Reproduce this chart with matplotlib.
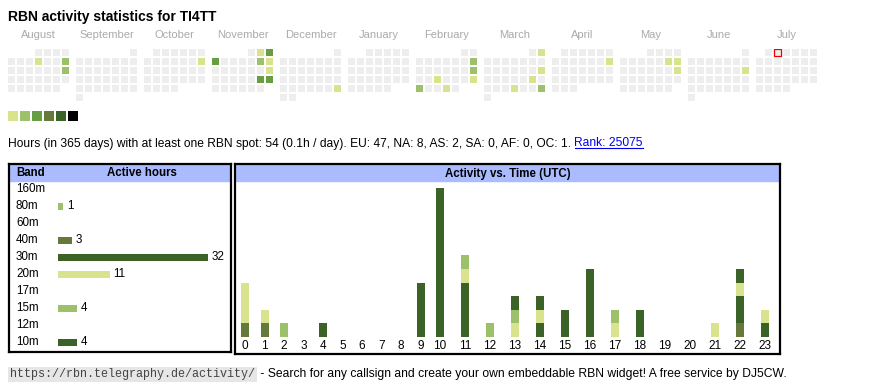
import calendar
import datetime as dt
import numpy as np
import matplotlib
matplotlib.use('Agg')
import matplotlib.pyplot as plt
from matplotlib.patches import Rectangle
from matplotlib.lines import Line2D

plt.rcParams['font.family'] = ['Liberation Sans', 'DejaVu Sans']

W, H = 870, 390

# colours
level_colors = ['#d9e28c', '#9dc06a', '#679e44', '#657a3a', '#3b6327', '#000000']
empty_color = '#eeeeee'
header_color = '#aabbff'
month_color = '#aaaaaa'

callsign = 'TI4TT'

# calendar (Aug 2024 - Jul 2025)
months = [(2024, 8), (2024, 9), (2024, 10), (2024, 11), (2024, 12), (2025, 1),
          (2025, 2), (2025, 3), (2025, 4), (2025, 5), (2025, 6), (2025, 7)]
month_names = ['August', 'September', 'October', 'November', 'December', 'January',
               'February', 'March', 'April', 'May', 'June', 'July']
active_days = ['2024-08-08', '2024-08-11', '2024-08-18', '2024-10-13',
               '2024-11-02', '2024-11-03', '2024-11-04', '2024-11-09', '2024-11-10',
               '2024-11-17', '2024-11-23', '2024-11-24', '2024-12-29',
               '2025-02-09', '2025-02-16', '2025-02-19', '2025-02-23', '2025-02-24',
               '2025-02-27', '2025-03-02', '2025-03-16', '2025-03-22', '2025-03-27',
               '2025-03-30', '2025-04-13', '2025-05-10', '2025-05-11', '2025-05-18',
               '2025-06-15']
active_levels = [1, 2, 2, 1,
                 1, 3, 3, 2, 1,
                 1, 3, 3, 1,
                 2, 2, 1, 1, 2,
                 1, 1, 1, 1, 1,
                 2, 1, 1, 1, 1,
                 1]
today = '2025-07-02'

# bands
bands = ['160m', '80m', '60m', '40m', '30m', '20m', '17m', '15m', '12m', '10m']
band_hours = [0, 1, 0, 3, 32, 11, 0, 4, 0, 4]
band_levels = [3, 2, 3, 4, 5, 1, 2, 2, 3, 5]

# hours per band and UTC hour
hours = list(range(24))
hourly = {
    '80m': [0, 0, 1, 0, 0, 0, 0, 0, 0, 0, 0, 0, 0, 0, 0, 0, 0, 0, 0, 0, 0, 0, 0, 0],
    '40m': [1, 1, 0, 0, 0, 0, 0, 0, 0, 0, 0, 0, 0, 0, 0, 0, 0, 0, 0, 0, 0, 0, 1, 0],
    '30m': [0, 0, 0, 0, 1, 0, 0, 0, 0, 4, 11, 4, 0, 0, 1, 2, 4, 0, 2, 0, 0, 0, 2, 1],
    '20m': [3, 1, 0, 0, 0, 0, 0, 0, 0, 0, 0, 1, 0, 1, 1, 0, 0, 1, 0, 0, 0, 1, 1, 1],
    '15m': [0, 0, 0, 0, 0, 0, 0, 0, 0, 0, 0, 1, 1, 1, 0, 0, 0, 1, 0, 0, 0, 0, 0, 0],
    '10m': [0, 0, 0, 0, 0, 0, 0, 0, 0, 0, 0, 0, 0, 1, 1, 0, 1, 0, 0, 0, 0, 0, 1, 0],
}

info_text = ('Hours (in 365 days) with at least one RBN spot: 54 (0.1h / day). '
             'EU: 47, NA: 8, AS: 2, SA: 0, AF: 0, OC: 1. ')
rank_text = 'Rank: 25075'
url_text = 'https://rbn.telegraphy.de/activity/'
footer_text = ' - Search for any callsign and create your own embeddable RBN widget! A free service by DJ5CW.'

fig = plt.figure(figsize=(W / 100, H / 100), dpi=100)


def px_axes(x0, y0, x1, y1):
    return fig.add_axes([x0 / W, 1 - y1 / H, (x1 - x0) / W, (y1 - y0) / H])


def fy(y):
    return 1 - y / H


fig.text(8 / W, fy(17), 'RBN activity statistics for ' + callsign, fontsize=10,
         fontweight='bold', va='center')

# ---------------- calendar ----------------
cal = px_axes(8, 49, 817, 101)
cal.set_xlim(0, 809 / 9)
cal.set_ylim(52 / 9, 0)
cal.axis('off')
block = 68 / 9
cs = 7 / 9
levels = {dt.date.fromisoformat(d): l for d, l in zip(active_days, active_levels)}
today_d = dt.date.fromisoformat(today)
for m, (yy, mm) in enumerate(months):
    first = dt.date(yy, mm, 1).weekday()
    ndays = calendar.monthrange(yy, mm)[1]
    for d in range(1, ndays + 1):
        day = dt.date(yy, mm, d)
        col = day.weekday()
        row = (d - 1 + first) // 7
        lv = levels.get(day, 0)
        fc = level_colors[lv - 1] if lv else empty_color
        ec = '#ee0000' if day == today_d else 'none'
        cal.add_patch(Rectangle((m * block + col, row), cs, cs, facecolor=fc,
                                edgecolor=ec, linewidth=0.9))
    cal.text(m * block + (6 + cs) / 2, -14 / 9, month_names[m], ha='center', va='center',
             fontsize=8, color=month_color, clip_on=False)

leg = px_axes(8, 111, 78, 121)
leg.set_xlim(0, 70 / 12)
leg.set_ylim(0, 10 / 12)
leg.axis('off')
for i, c in enumerate(level_colors):
    leg.add_patch(Rectangle((i, 0), 10 / 12, 10 / 12, facecolor=c, edgecolor='none'))

# ---------------- info line ----------------
r = fig.canvas.get_renderer()
t1 = fig.text(8 / W, fy(146.5), info_text, fontsize=8.65, va='baseline')
bb = t1.get_window_extent(r)
t2 = fig.text(bb.x1 / W, fy(146.5), rank_text, fontsize=8.65, va='baseline',
              color='#0000ee')
bb2 = t2.get_window_extent(r)
fig.add_artist(Line2D([bb2.x0 / W, bb2.x1 / W], [fy(148), fy(148)],
                      color='#0000ee', linewidth=0.8))

# ---------------- band panel ----------------
px_h = 4.69
pitch = 17
y0 = 189.3
axb = px_axes(9, 164, 231.5, 352)
axb.set_xlim((9 - 58) / px_h, (231.5 - 58) / px_h)
axb.set_ylim((352 - y0) / pitch, (164 - y0) / pitch)
axb.set_xticks([])
axb.set_yticks([])
for s in axb.spines.values():
    s.set_linewidth(1.6)
axb.axhspan((164 - y0) / pitch, (181 - y0) / pitch, color=header_color, zorder=0)
axb.text((16 - 58) / px_h, (173.5 - y0) / pitch, 'Band', fontsize=8.3,
         fontweight='bold', va='center')
axb.text((142 - 58) / px_h, (173.5 - y0) / pitch, 'Active hours', fontsize=8.3,
         fontweight='bold', va='center', ha='center')
ypos = np.arange(len(bands))
axb.barh(ypos, band_hours, height=7 / pitch, left=0,
         color=[level_colors[l - 1] for l in band_levels], linewidth=0)
for i, (b, v) in enumerate(zip(bands, band_hours)):
    axb.text((16 - 58) / px_h, i, b, fontsize=8.4, va='center')
    if v:
        axb.text(v + 4 / px_h, i, str(v), fontsize=8.4, va='center')

# ---------------- activity vs time ----------------
base = 336.7
unit = 13.55
axt = px_axes(234.5, 164, 780.5, 354)
axt.set_xlim(0, 546)
axt.set_ylim(-(354 - base) / unit, (base - 164) / unit)
axt.set_xticks([])
axt.set_yticks([])
for s in axt.spines.values():
    s.set_linewidth(1.6)
axt.axhspan((base - 181) / unit, (base - 164) / unit, color=header_color, zorder=0)
axt.text(0.5, (base - 173.5) / unit, 'Activity vs. Time (UTC)', fontsize=8.3,
         fontweight='bold', va='center', ha='center',
         transform=axt.get_yaxis_transform())
col_w = np.where(np.array(hours) < 10, 19.5, 25.0)
x_left = 6.5 + np.concatenate([[0], np.cumsum(col_w)[:-1]])
bottom = np.zeros(24)
for b, lv in zip(bands, band_levels):
    if b not in hourly:
        continue
    v = np.array(hourly[b], dtype=float)
    axt.bar(x_left, v, width=8, bottom=bottom, align='edge',
            color=level_colors[lv - 1], linewidth=0)
    bottom += v
for h, x in zip(hours, x_left):
    axt.text(x + 4, -(346 - base) / unit, str(h), fontsize=8.5, ha='center', va='center')

# ---------------- footer ----------------
t3 = fig.text(10 / W, fy(374.5), url_text, fontsize=8.5, family='Liberation Mono',
              color='#444444', va='center',
              bbox=dict(facecolor='#e6e6e6', edgecolor='none', pad=1.2))
bb3 = t3.get_window_extent(r)
fig.text((bb3.x1 + 2) / W, fy(374.5), footer_text, fontsize=8.75, va='center')

fig.savefig('out.png', dpi=100)
